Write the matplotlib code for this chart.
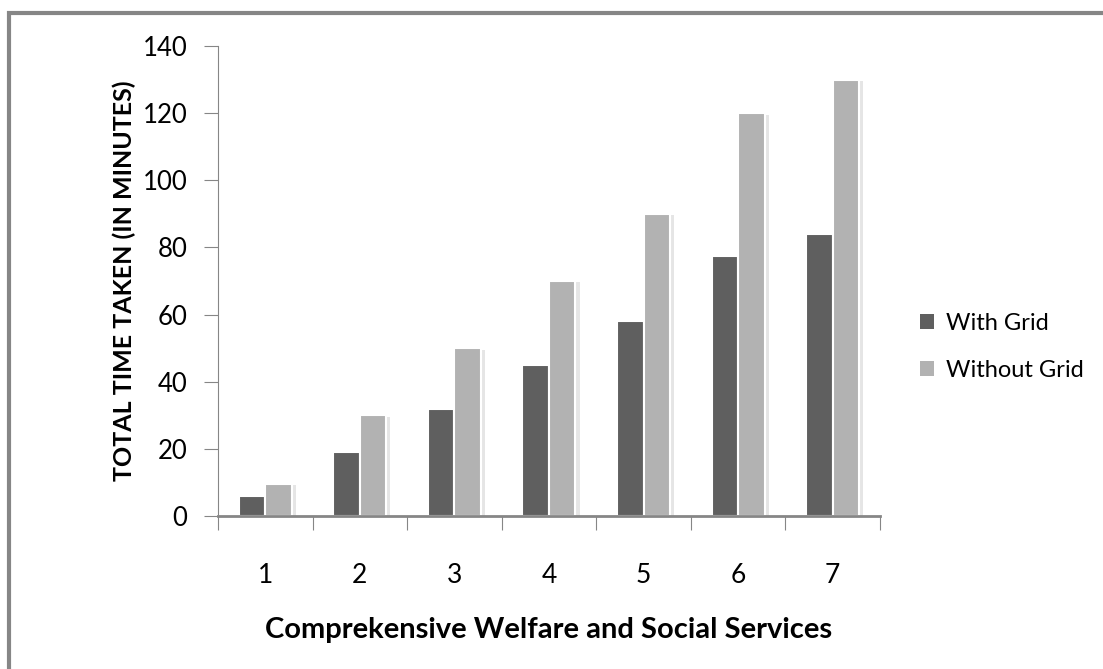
import matplotlib.pyplot as plt
import matplotlib.patheffects as pe
from matplotlib.patches import Rectangle, Patch
import numpy as np

categories = ['1', '2', '3', '4', '5', '6', '7']
with_grid = [6, 19, 32, 45, 58, 77.5, 84]
without_grid = [9.5, 30, 50, 70, 90, 120, 130]
yticks = [0, 20, 40, 60, 80, 100, 120, 140]

plt.rcParams['font.family'] = ['Lato', 'DejaVu Sans']

fig = plt.figure(figsize=(11.03, 6.69), dpi=100)
ax = fig.add_axes([0.1976, 0.2287, 0.6002, 0.7025])

# outer frame (only top/left visible in the original)
fig.patches.append(Rectangle((9 / 1103, -0.1), 1.2, 1 - 13 / 669 + 0.1,
                             transform=fig.transFigure, fill=False,
                             edgecolor='#868686', linewidth=3))

x = np.arange(len(categories))
w = 0.28
shadow = [pe.SimplePatchShadow(offset=(3, -1), shadow_rgbFace='#d5d5d5', alpha=0.6), pe.Normal()]
b1 = ax.bar(x - w / 2, with_grid, w, color='#5f5f5f', edgecolor='white', linewidth=1.5)
b2 = ax.bar(x + w / 2, without_grid, w, color='#b2b2b2', edgecolor='white', linewidth=1.5)
for p in list(b1) + list(b2):
    p.set_path_effects(shadow)

ax.set_xlim(-0.5, len(categories) - 0.5)
ax.set_ylim(0, 140)
ax.set_yticks(yticks)
ax.set_xticks(np.arange(-0.5, len(categories)), minor=False)
ax.set_xticklabels([])
ax.set_xticks(x, minor=True)
ax.set_xticklabels(categories, minor=True)
ax.tick_params(axis='x', which='major', length=10, color='#868686', direction='out')
ax.tick_params(axis='x', which='minor', length=0, pad=34, labelsize=19)
ax.tick_params(axis='y', length=10, color='#868686', labelsize=18.5, pad=12)

for s in ['top', 'right']:
    ax.spines[s].set_visible(False)
for s in ['left', 'bottom']:
    ax.spines[s].set_color('#868686')
ax.spines['bottom'].set_linewidth(2)

ax.set_ylabel('TOTAL TIME TAKEN (IN MINUTES)', fontsize=18, fontweight='bold', labelpad=5)
ax.set_xlabel('Comprekensive Welfare and Social Services', fontsize=21, fontweight='bold',
              labelpad=21)

handles = [Patch(facecolor='#5f5f5f', label='With Grid'),
           Patch(facecolor='#b2b2b2', label='Without Grid')]
fig.legend(handles=handles, loc='center left', bbox_to_anchor=(0.815, 0.482), frameon=False,
           fontsize=17, handlelength=0.6, handleheight=0.6, handletextpad=0.5,
           labelspacing=1.1)

plt.savefig('out.png', dpi=100)
